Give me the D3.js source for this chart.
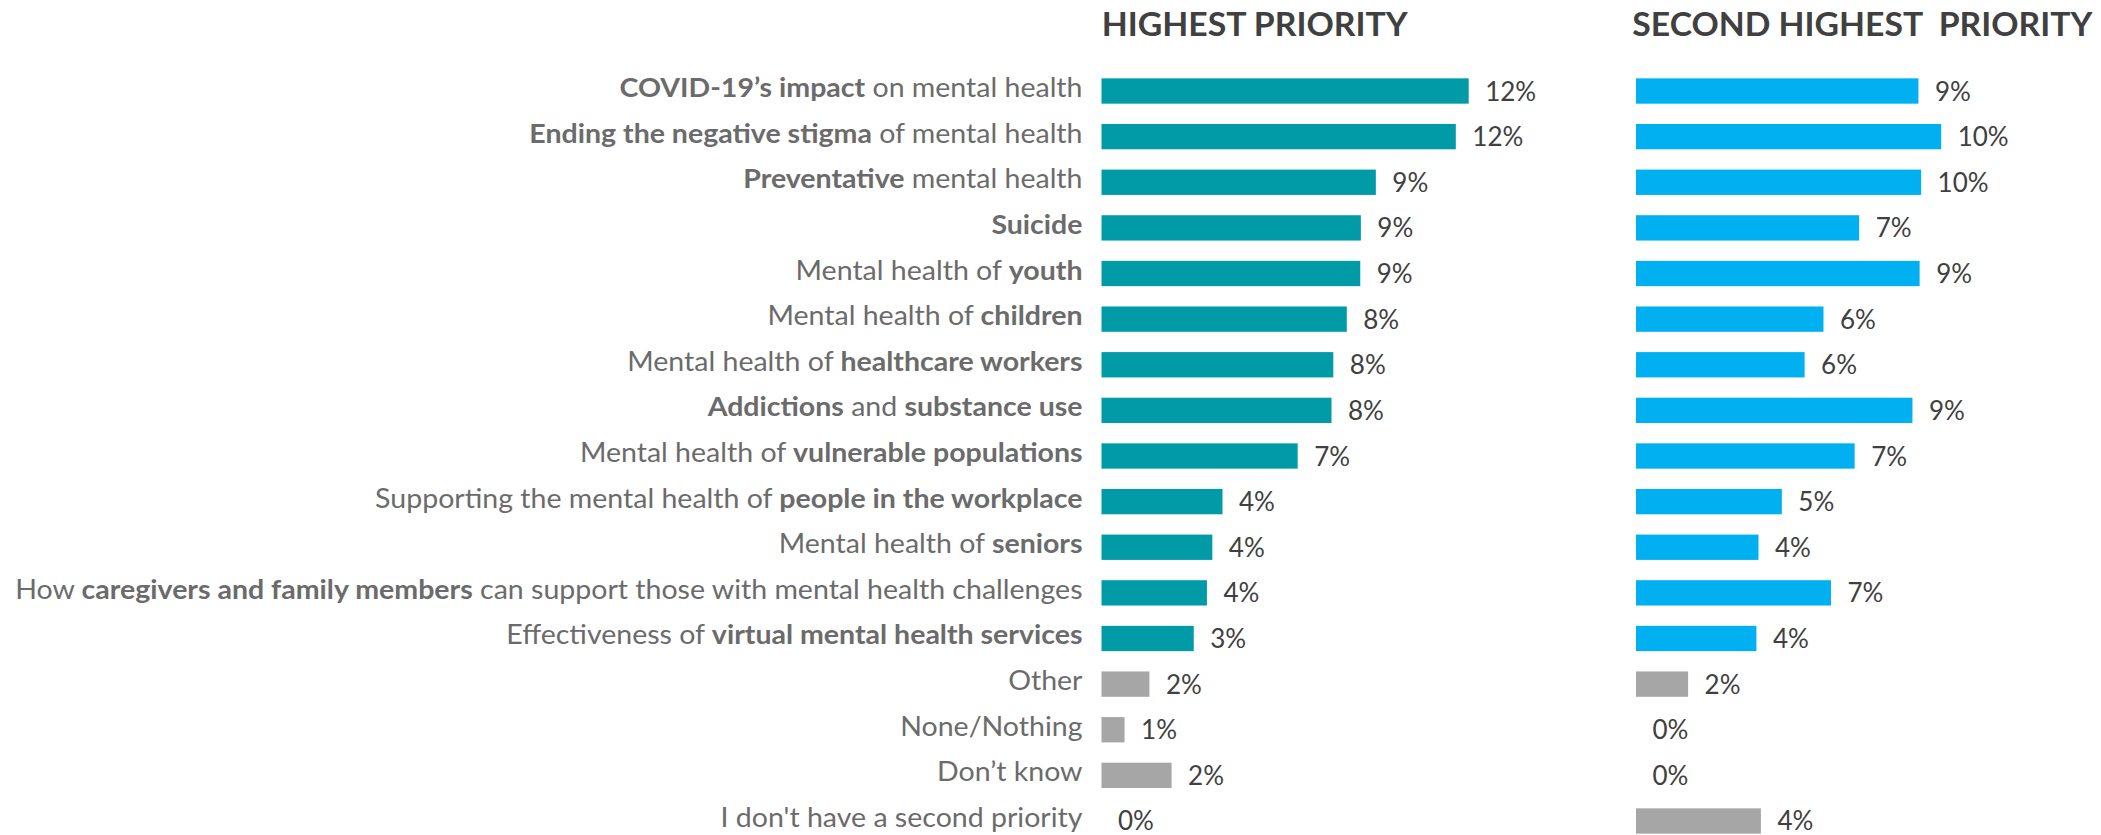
<!DOCTYPE html>
<html>
<head>
<meta charset="utf-8">
<script src="https://cdn.jsdelivr.net/npm/d3@7"></script>
<style>
  body { margin: 0; background: #fff; }
  text { font-family: Lato, 'Noto Sans', sans-serif; }
</style>
</head>
<body>
<div id="grafica"></div>
<script>
// categorias, las partes en negrita van entre ** **
categorias = [
  '**COVID-19’s impact** on mental health',
  '**Ending the negative stigma** of mental health',
  '**Preventative** mental health',
  '**Suicide**',
  'Mental health of **youth**',
  'Mental health of **children**',
  'Mental health of **healthcare workers**',
  '**Addictions** and **substance use**',
  'Mental health of **vulnerable populations**',
  'Supporting the mental health of **people in the workplace**',
  'Mental health of **seniors**',
  'How **caregivers and family members** can support those with mental health challenges',
  'Effectiveness of **virtual mental health services**',
  'Other',
  'None/Nothing',
  'Don’t know',
  "I don't have a second priority"
]
neutras = ['Other', 'None/Nothing', 'Don’t know', "I don't have a second priority"]

primera = [12.26, 11.83, 9.16, 8.66, 8.64, 8.19, 7.74, 7.68, 6.55, 4.04, 3.70, 3.52, 3.08, 1.6, 0.77, 2.34, 0]
segunda = [9.43, 10.19, 9.52, 7.45, 9.47, 6.26, 5.63, 9.23, 7.30, 4.87, 4.09, 6.51, 4.02, 1.74, 0, 0, 4.17]

titulos = ['HIGHEST PRIORITY', 'SECOND HIGHEST  PRIORITY']

ancho_total = 2101
alto_total  = 835

svg = d3.select('#grafica')
        .append('svg')
        .attr('width', ancho_total)
        .attr('height', alto_total)

// escala vertical de filas
y = d3.scaleBand()
      .domain(categorias)
      .range([68.2, 843.8])
      .paddingInner(0.445)
      .paddingOuter(0.2225)

// escala horizontal (misma para los dos paneles)
x = d3.scaleLinear()
      .domain([0, 10])
      .range([0, 299.5])

paneles = [
  { x0: 1101.5, valores: primera, color: '#009ba7', titulo: titulos[0], tx: 1101.7, tw: 306 },
  { x0: 1636,   valores: segunda, color: '#00b0f0', titulo: titulos[1], tx: 1632.3, tw: 460 }
]

// etiquetas de categorias
etiquetas = svg.append('g')
  .selectAll('text')
  .data(categorias)
  .enter()
  .append('text')
  .attr('text-anchor', 'end')
  .attr('font-size', '27px')
  .attr('fill', '#6b6b6b')

etiquetas.each(function (d) {
  t = d3.select(this)
  d.split('**').forEach((parte, i) => {
    if (parte === '') return
    t.append('tspan')
      .attr('font-weight', i % 2 ? 700 : 400)
      .text(parte)
  })
})

// ajustar ancho para imitar la fuente condensada
largo = d3.max(etiquetas.nodes(), (n) => n.getComputedTextLength())
sx = 1067.5 / largo
etiquetas.attr('transform', (d) => `translate(1082.5, ${y(d) + y.bandwidth() / 2 + 6}) scale(${sx}, 1)`)

paneles.forEach((p) => {
  g = svg.append('g').attr('transform', `translate(${p.x0}, 0)`)

  filas = categorias.map((c, i) => ({ cat: c, v: p.valores[i] }))

  g.selectAll('rect')
    .data(filas.filter((d) => d.v > 0))
    .enter()
    .append('rect')
    .attr('x', x(0))
    .attr('y', (d) => y(d.cat))
    .attr('width', (d) => x(d.v))
    .attr('height', y.bandwidth())
    .attr('fill', (d) => neutras.includes(d.cat) ? '#a6a6a6' : p.color)

  g.selectAll('text.valor')
    .data(filas)
    .enter()
    .append('text')
    .classed('valor', true)
    .attr('x', (d) => x(d.v) + 16.5)
    .attr('y', (d) => y(d.cat) + y.bandwidth() / 2 + 9.5)
    .attr('font-size', '26px')
    .attr('fill', '#404040')
    .text((d) => Math.round(d.v) + '%')

  svg.append('text')
    .attr('x', p.tx)
    .attr('y', 36)
    .attr('font-size', '33px')
    .attr('font-weight', 700)
    .attr('fill', '#404040')
    .style('white-space', 'pre')
    .attr('textLength', p.tw)
    .attr('lengthAdjust', 'spacingAndGlyphs')
    .text(p.titulo)
})
</script>
</body>
</html>
